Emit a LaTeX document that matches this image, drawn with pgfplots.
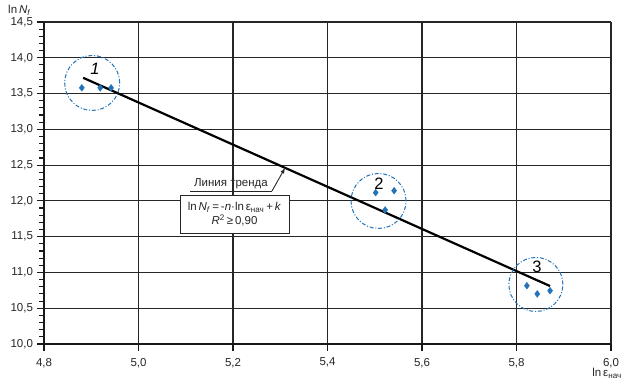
\documentclass[border=0pt]{standalone}
\usepackage{pgfplots}
\pgfplotsset{compat=1.18}
\usepackage{fontspec}
\setmainfont{Liberation Sans}
\definecolor{ptblue}{RGB}{35,115,185}
\begin{document}
\fontsize{11.5bp}{13bp}\selectfont
\begin{tikzpicture}[font=\fontsize{11.5bp}{13bp}\selectfont]
\path[use as bounding box] (-44bp,-41bp) rectangle (582bp,344bp);
\begin{axis}[
  at={(0,0)}, anchor=south west,
  scale only axis, width=567bp, height=322bp,
  xmin=4.8, xmax=6.0, ymin=10.0, ymax=14.5,
  xtick={4.8,5.0,5.2,5.4,5.6,5.8,6.0},
  ytick={10.0,10.5,11.0,11.5,12.0,12.5,13.0,13.5,14.0,14.5},
  minor y tick num=4,
  axis x line*=bottom, axis y line*=left,
  axis line style={-, line width=1.6bp, black!90},
  tick align=outside,
  major tick length=7bp, minor tick length=5bp,
  tick style={black!90, line width=1.1bp},
  grid=major,
  major grid style={black!85, line width=1.1bp},
  /pgf/number format/use comma,
  /pgf/number format/fixed,
  /pgf/number format/fixed zerofill,
  /pgf/number format/precision=1,
  /pgf/number format/assume math mode=true,
  ticklabel style={font=\fontsize{11.5bp}{13bp}\selectfont, text=black!85},
  xticklabel style={yshift=-3bp},
  clip=false,
]
% trend line
\addplot[black, line width=2.2bp] coordinates {(4.883,13.72) (5.871,10.81)};
% data points
\addplot[only marks, mark=diamond*, mark size=3.4bp, color=ptblue] coordinates {
  (4.880,13.58) (4.919,13.58) (4.942,13.58)
  (5.502,12.115) (5.541,12.143) (5.522,11.873)
  (5.822,10.815) (5.844,10.70) (5.871,10.745)
};
% group circles
\draw[ptblue, line width=1bp, dash pattern=on 4bp off 1.8bp on 1bp off 1.8bp] (axis cs:4.902,13.648) circle[radius=27.5bp];
\draw[ptblue, line width=1bp, dash pattern=on 4bp off 1.8bp on 1bp off 1.8bp] (axis cs:5.508,11.999) circle[radius=27.5bp];
\draw[ptblue, line width=1bp, dash pattern=on 4bp off 1.8bp on 1bp off 1.8bp] (axis cs:5.841,10.832) circle[radius=27bp];
\end{axis}
% group numbers
\node[font=\fontsize{16.5bp}{18bp}\selectfont\itshape] at (51bp,275bp) {1};
\node[font=\fontsize{16.5bp}{18bp}\selectfont] at (335bp,160bp) {2};
\node[font=\fontsize{16.5bp}{18bp}\selectfont] at (493bp,77bp) {3};
% annotation
\node[text=black!85] at (187bp,160.5bp) {Линия тренда};
\draw[black!85, line width=0.9bp] (146bp,153bp) -- (228bp,153bp);
\draw[black!85, line width=0.9bp, -latex] (228bp,153bp) -- (241bp,176bp);
\node[draw=black!85, line width=0.9bp, fill=white, minimum width=109bp, minimum height=38bp, align=center, inner sep=1bp, text=black!85] at (190.5bp,130bp)
  {ln\,\textit{N}\textsubscript{\textit{f}}\,=\,-\textit{n}·ln\,ε\textsubscript{нач}\,+\,\textit{k}\\[1bp]
   \textit{R}\textsuperscript{2}\,≥\,0,90};
% axis labels
\node[anchor=west, inner sep=0pt, text=black!85] at (-36bp,334bp) {ln\,\textit{N}\textsubscript{\textit{f}}};
\node[anchor=east, inner sep=0pt, text=black!85] at (578bp,-29bp) {ln\,ε\textsubscript{нач}};
\end{tikzpicture}
\end{document}
